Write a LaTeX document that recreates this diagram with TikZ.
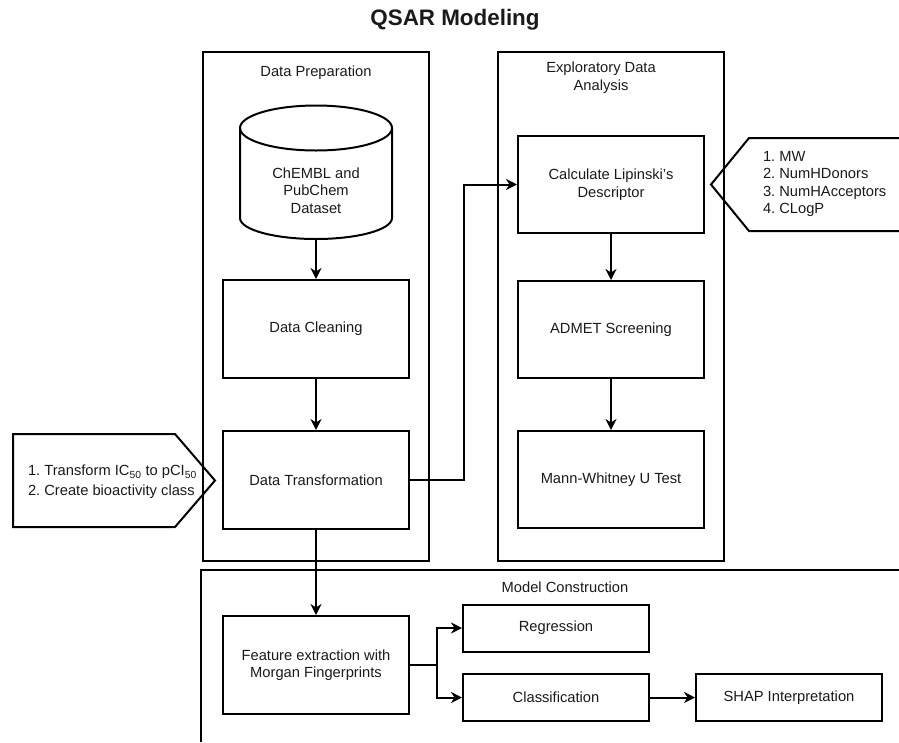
\documentclass[tikz,border=0pt]{standalone}
\usepackage{fontspec}
\setmainfont{Liberation Sans}
\usetikzlibrary{arrows.meta}
\definecolor{txt}{HTML}{1A1A1A}
\newcommand\fsz{\fontsize{14.7}{17.5}\selectfont}
\frenchspacing
\begin{document}
\begin{tikzpicture}[x=1pt,y=-1pt,line width=2pt,
  box/.style={draw,rectangle,minimum width=186pt,minimum height=98pt,inner sep=0pt,align=center,font=\fsz,text=txt},
  sbox/.style={draw,rectangle,minimum width=186pt,minimum height=47pt,inner sep=0pt,align=center,font=\fsz,text=txt},
  lbl/.style={align=center,font=\fsz,text=txt,inner sep=0pt},
  arr/.style={-{Stealth[length=11pt,width=11pt,inset=3.5pt]},line width=2pt},
  frame/.style={draw,line width=2pt}]
\useasboundingbox (0,0) rectangle (899,742);
% title
\node[font=\fontsize{22.4}{26}\selectfont\bfseries,text=txt] (title) at (455,20) {QSAR Modeling};
% containers
\draw[frame] (203,52) rectangle (429,561);
\draw[frame] (498,52) rectangle (724,561);
\draw[frame] (201,742) -- (201,570) -- (899,570);
\node[lbl] (lprep) at (316,73) {Data Preparation};
\node[lbl] (leda) at (601,77.5) {Exploratory Data\\Analysis};
\node[lbl] (lmod) at (565,587) {Model Construction};
% cylinder
\draw[frame] (316,128) ellipse [x radius=76, y radius=22.5];
\draw[frame] (240,128) -- (240,218) arc[start angle=180,end angle=0,x radius=76,y radius=21] -- (392,128);
\node[lbl] (db) at (316,190.5) {ChEMBL and\\PubChem\\Dataset};
\coordinate (dbb) at (316,239);
% data prep boxes
\node[box] (clean) at (316,329) {Data Cleaning};
\node[box] (trans) at (316,480) {Data Transformation};
% EDA boxes
\node[box,minimum height=97pt] (lip) at (611,184.5) {Calculate Lipinski's\\Descriptor};
\node[box,minimum height=97pt] (admet) at (611,329.5) {ADMET Screening};
\node[box,minimum height=97pt] (mann) at (611,479.5) {Mann-Whitney U Test};
% model boxes
\node[box] (feat) at (316,665) {Feature extraction with\\Morgan Fingerprints};
\node[sbox] (reg) at (556,628) {Regression};
\node[sbox] (cls) at (556,697.5) {Classification};
\node[sbox] (shap) at (789,697.5) {SHAP Interpretation};
% left callout
\draw[frame,line join=miter] (13,434) -- (175,434) -- (215,480.5) -- (175,527) -- (13,527) -- cycle;
\node[lbl,anchor=west,align=left,font=\fontsize{14.7}{20}\selectfont] (ic) at (27,482)
  {1. Transform IC\textsubscript{50} to pCI\textsubscript{50}\\2. Create bioactivity class};
% right callout
\draw[frame,line join=miter] (905,138) -- (749,138) -- (711,184.5) -- (749,231) -- (905,231);
\node[lbl,anchor=west,align=left] (desc) at (762,184) {1. MW\\2. NumHDonors\\3. NumHAcceptors\\4. CLogP};
% connectors
\draw[arr] (dbb) -- (clean.north);
\draw[arr] (clean) -- (trans);
\draw[arr] (trans.east) -- ++(54,0) |- (lip.west);
\draw[arr] (lip) -- (admet);
\draw[arr] (admet) -- (mann);
\draw[arr] (trans) -- (feat);
\draw[arr] (feat.east) -- ++(27,0) |- (reg.west);
\draw[arr] (feat.east) -- ++(27,0) |- (cls.west);
\draw[arr] (cls) -- (shap);
\end{tikzpicture}
\end{document}
